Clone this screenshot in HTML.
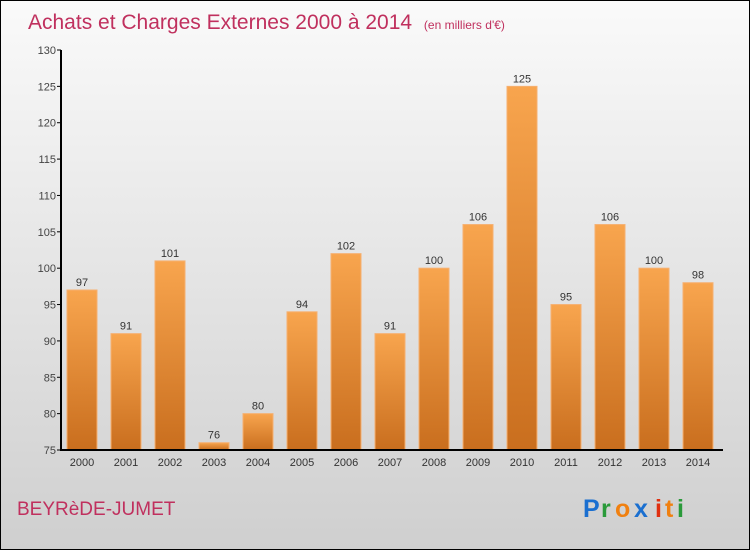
<!DOCTYPE html>
<html><head><meta charset="utf-8"><style>
body{margin:0}
#c{width:748px;height:548px;border:1px solid #000;background:linear-gradient(#fafafa,#cfcfcf);position:relative;font-family:"Liberation Sans",sans-serif;overflow:hidden}
</style></head><body>
<div id="c">
<svg id="s" width="748" height="548" xmlns="http://www.w3.org/2000/svg">
<defs><linearGradient id="g" x1="0" y1="0" x2="0" y2="1"><stop offset="0" stop-color="#f8a54e"/><stop offset="1" stop-color="#c96e1e"/></linearGradient></defs>
<text x="27" y="28" font-size="21" fill="#c0305e">Achats et Charges Externes 2000 à 2014 <tspan font-size="12" dx="6">(en milliers d'€)</tspan></text>
<text x="16" y="514" font-size="19" fill="#c0305e">BEYRèDE-JUMET</text>
<g font-family="Liberation Sans" font-size="25" font-weight="bold">
<text x="582" y="516" fill="#1a6fd0">P</text><text x="600" y="516" fill="#2a9a3a">r</text><text x="614" y="516" fill="#f08010">o</text><text x="633" y="516" fill="#1a6fd0">x</text><text x="654" y="516" fill="#e03010">i</text><text x="664" y="516" fill="#f08010">t</text><text x="676" y="516" fill="#2a9a3a">i</text></g>
<g id="plot"></g>
</svg></div>
<script>
const categories=["2000","2001","2002","2003","2004","2005","2006","2007","2008","2009","2010","2011","2012","2013","2014"];
const values=[97,91,101,76,80,94,102,91,100,106,125,95,106,100,98];
const ticks=[75,80,85,90,95,100,105,110,115,120,125,130];
const NS="http://www.w3.org/2000/svg",p=document.getElementById('plot');
const X0=60,Y0=449,ymin=75,ymax=130,H=400;
const y=v=>Y0-(v-ymin)/(ymax-ymin)*H;
const x=i=>66+i*44;
function mk(t,a,txt){const e=document.createElementNS(NS,t);for(const k in a)e.setAttribute(k,a[k]);if(txt!=null)e.textContent=txt;p.appendChild(e);return e;}
ticks.forEach(t=>{
const l=mk('line',{x1:X0-4,x2:X0,y1:y(t),y2:y(t),stroke:'#000'});


const tx=mk('text',{x:X0-5,y:y(t)+4,'font-size':11,fill:'#444','text-anchor':'end'},t);


});
values.forEach((v,i)=>{
const r=mk('rect',{x:x(i),y:y(v),width:30,height:Y0-y(v),fill:'url(#g)',stroke:'#f6b070','stroke-width':1});


const t=mk('text',{x:x(i)+15,y:y(v)-4,'font-size':11,fill:'#333','text-anchor':'middle'},v);


const c=mk('text',{x:x(i)+15,y:Y0+16,'font-size':11,fill:'#333','text-anchor':'middle'},categories[i]);


});
const ya=mk('line',{x1:X0,x2:X0,y1:y(130),y2:Y0+1,stroke:'#000','stroke-width':2});


const xa=mk('line',{x1:X0,x2:722,y1:Y0,y2:Y0,stroke:'#000','stroke-width':2});


</script>
</body></html>
